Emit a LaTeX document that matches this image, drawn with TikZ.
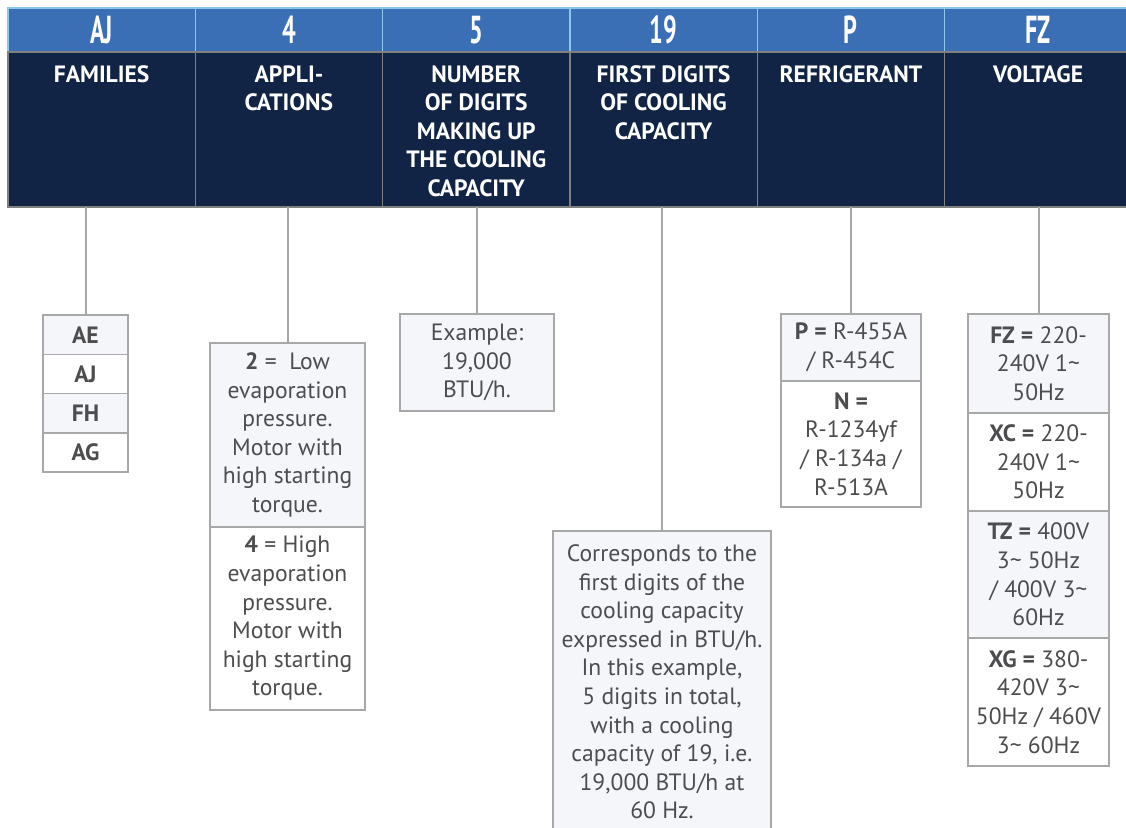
\documentclass[tikz,border=0pt]{standalone}
\usepackage{fontspec}
\setmainfont{PT Sans}
\newfontfamily\codefont[FakeStretch=0.62]{PT Sans}
\usetikzlibrary{positioning}
\definecolor{codeBlue}{RGB}{58,110,181}
\definecolor{headNavy}{RGB}{17,36,70}
\definecolor{bandLine}{RGB}{140,200,235}
\definecolor{cellLine}{RGB}{128,128,128}
\definecolor{boxLine}{RGB}{168,168,168}
\definecolor{boxLight}{RGB}{245,246,250}
\definecolor{boxText}{RGB}{77,77,79}
\begin{document}
\begin{tikzpicture}[
  x=0.5pt,y=-0.5pt,
  code/.style={
    fill=codeBlue,
    draw=bandLine,
    line width=0.6pt,
    minimum width=93.65pt,
    minimum height=22pt,
    inner sep=0pt,
    outer sep=0pt,
    text=white,
    font=\codefont\bfseries\fontsize{19.5}{19.5}\selectfont
  },
  headcell/.style={
    fill=headNavy,
    draw=cellLine,
    line width=0.6pt,
    minimum width=93.65pt,
    minimum height=77.5pt,
    inner sep=0pt,
    outer sep=0pt
  },
  title/.style={
    inner sep=0pt,
    align=center,
    text=white,
    font=\bfseries\fontsize{11.8}{14.3}\selectfont
  },
  optbox/.style={
    draw=boxLine,
    line width=0.75pt,
    inner sep=1pt,
    outer sep=0pt,
    align=center,
    text=boxText,
    font=\fontsize{11.8}{14.3}\selectfont
  },
  link/.style={draw=boxLine,line width=1pt}
]
  \clip (0,0) rectangle (1126,828);
  \fill[white] (0,0) rectangle (1126,828);

  % header: code letters on top, meaning below
  \node[code] (famcode) at (101.65,30) {AJ};
  \node[code] (appcode) at (288.95,30) {4};
  \node[code] (digcode) at (476.25,30) {5};
  \node[code] (capcode) at (663.55,30) {19};
  \node[code] (refcode) at (850.85,30) {P};
  \node[code] (voltcode) at (1038.15,30) {FZ};

  \node[headcell] (famhead) at (101.65,129.5) {};
  \node[headcell] (apphead) at (288.95,129.5) {};
  \node[headcell] (dighead) at (476.25,129.5) {};
  \node[headcell] (caphead) at (663.55,129.5) {};
  \node[headcell] (refhead) at (850.85,129.5) {};
  \node[headcell] (volthead) at (1038.15,129.5) {};

  \node[title,below=6.5pt of famhead.north] {FAMILIES};
  \node[title,below=6.5pt of apphead.north] {APPLI-\\CATIONS};
  \node[title,below=6.5pt of dighead.north]
    {NUMBER\\OF DIGITS\\MAKING UP\\THE COOLING\\CAPACITY};
  \node[title,below=6.5pt of caphead.north]
    {FIRST DIGITS\\OF COOLING\\CAPACITY};
  \node[title,below=6.5pt of refhead.north] {REFRIGERANT};
  \node[title,below=6.5pt of volthead.north] {VOLTAGE};

  % families
  \node[optbox,fill=boxLight,minimum width=42.5pt,minimum height=19.65pt,
    font=\bfseries\fontsize{11.8}{14.3}\selectfont] (famAE) at (85.5,334.7) {AE};
  \node[optbox,fill=white,minimum width=42.5pt,minimum height=19.65pt,
    font=\bfseries\fontsize{11.8}{14.3}\selectfont,below=0pt of famAE] (famAJ) {AJ};
  \node[optbox,fill=boxLight,minimum width=42.5pt,minimum height=19.65pt,
    font=\bfseries\fontsize{11.8}{14.3}\selectfont,below=0pt of famAJ] (famFH) {FH};
  \node[optbox,fill=white,minimum width=42.5pt,minimum height=19.65pt,
    font=\bfseries\fontsize{11.8}{14.3}\selectfont,below=0pt of famFH] (famAG) {AG};

  % applications
  \node[optbox,fill=boxLight,minimum width=77.5pt,minimum height=92pt] (appLow)
    at (287.5,435) {\textbf{2} =~ Low\\evaporation\\pressure.\\Motor with\\high starting\\torque.};
  \node[optbox,fill=white,minimum width=77.5pt,minimum height=91.5pt,
    below=0pt of appLow] (appHigh)
    {\textbf{4} = High\\evaporation\\pressure.\\Motor with\\high starting\\torque.};

  % number of digits
  \node[optbox,fill=boxLight,minimum width=77pt,minimum height=48.5pt] (digEx)
    at (477,362.5) {Example:\\19,000\\BTU/h.};

  % first digits
  \node[optbox,fill=boxLight,minimum width=109pt,minimum height=151pt] (capEx)
    at (662,682) {Corresponds to the\\first digits of the\\cooling capacity\\expressed in BTU/h.\\In this example,\\5 digits in total,\\with a cooling\\capacity of 19, i.e.\\19,000 BTU/h at\\60 Hz.};

  % refrigerant
  \node[optbox,fill=boxLight,minimum width=70pt,minimum height=33.5pt] (refP)
    at (851,347.5) {\textbf{P =} R-455A\\/ R-454C};
  \node[optbox,fill=white,minimum width=70pt,minimum height=63pt,
    below=0pt of refP] (refN) {\textbf{N =}\\R-1234yf\\/ R-134a /\\R-513A};

  % voltage
  \node[optbox,fill=boxLight,minimum width=70.5pt,minimum height=49.5pt] (voltFZ)
    at (1038.5,363.5) {\textbf{FZ =} 220-\\240V 1\textasciitilde\\50Hz};
  \node[optbox,fill=white,minimum width=70.5pt,minimum height=49pt,
    below=0pt of voltFZ] (voltXC) {\textbf{XC =} 220-\\240V 1\textasciitilde\\50Hz};
  \node[optbox,fill=boxLight,minimum width=70.5pt,minimum height=63.5pt,
    below=0pt of voltXC] (voltTZ) {\textbf{TZ =} 400V\\3\textasciitilde{} 50Hz\\/ 400V 3\textasciitilde\\60Hz};
  \node[optbox,fill=white,minimum width=70.5pt,minimum height=64pt,
    below=0pt of voltTZ] (voltXG) {\textbf{XG =} 380-\\420V 3\textasciitilde\\50Hz / 460V\\3\textasciitilde{} 60Hz};

  % connectors
  \draw[link] (famAE.north |- famhead.south) -- (famAE.north);
  \draw[link] (appLow.north |- apphead.south) -- (appLow.north);
  \draw[link] (digEx.north |- dighead.south) -- (digEx.north);
  \draw[link] (capEx.north |- caphead.south) -- (capEx.north);
  \draw[link] (refP.north |- refhead.south) -- (refP.north);
  \draw[link] (voltFZ.north |- volthead.south) -- (voltFZ.north);
\end{tikzpicture}
\end{document}
